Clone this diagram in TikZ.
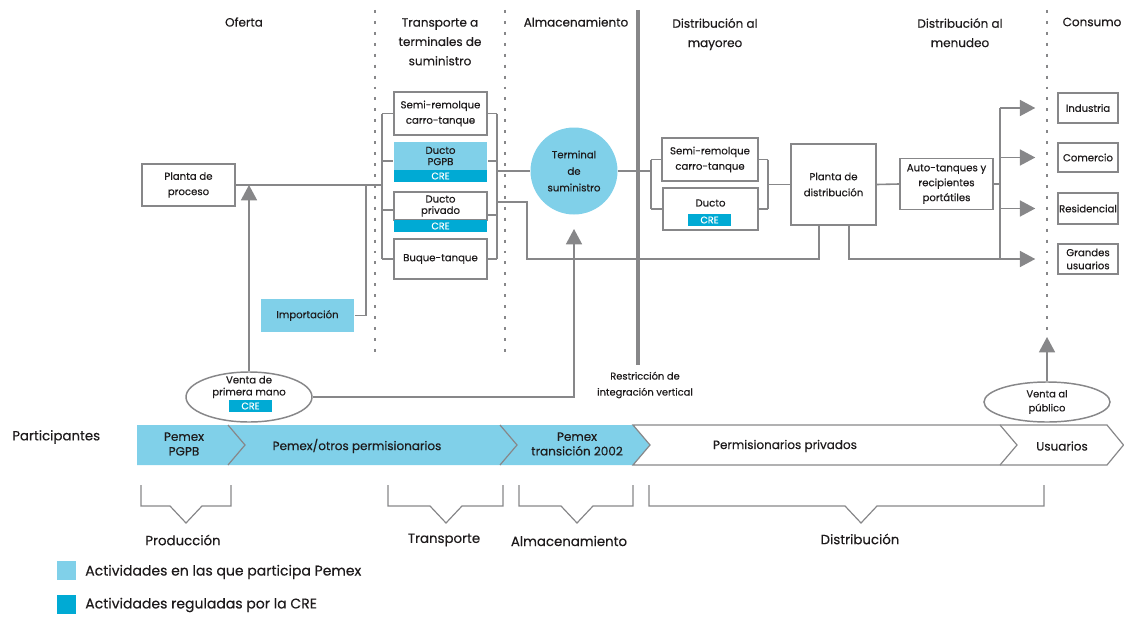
\documentclass[tikz,border=0pt]{standalone}
\usepackage{fontspec}
\setmainfont{Poppins}[FakeBold=0.4]
\usetikzlibrary{arrows.meta,shapes.geometric}
\definecolor{lblue}{RGB}{128,208,233}
\definecolor{dblue}{RGB}{0,170,212}
\definecolor{lgray}{RGB}{135,135,137}
\definecolor{txt}{RGB}{30,27,28}
\begin{document}
\begin{tikzpicture}[x=0.75pt,y=-0.75pt,
  box/.style={draw=lgray, line width=1.1pt, fill=white, inner sep=0pt, align=center, text=txt, font=\fontsize{7.6}{11.5}\selectfont},
  bluebox/.style={box, draw=none, fill=lblue},
  crestrip/.style={fill=dblue, inner sep=0pt, text=white, font=\fontsize{7.2}{8}\selectfont, minimum height=12*0.75pt},
  plain/.style={inner sep=0pt, align=center, text=txt, font=\fontsize{7.6}{11.5}\selectfont},
  conn/.style={draw=lgray, line width=1.2pt},
  arr/.style={conn, -{Triangle[length=11.5pt,width=12pt]}},
  dotline/.style={draw=lgray, line width=2.2pt, dash pattern=on 2.2pt off 6pt},
  hdr/.style={align=center, text=txt, inner sep=0pt, font=\fontsize{9}{14.5}\selectfont},
  brace/.style={draw=lgray, line width=0.9pt},
  bandtxt/.style={align=center, text=txt, inner sep=0pt, font=\fontsize{9}{11}\selectfont},
  lbl/.style={text=txt, inner sep=0pt, font=\fontsize{10}{12}\selectfont},
  oval/.style={ellipse, draw=lgray, line width=1.1pt, fill=white, inner sep=0pt}
]
\useasboundingbox (0,0) rectangle (1124,617);

% headers
\node[hdr] (h1) at (244,22) {Oferta};
\node[hdr, anchor=north] (h2) at (440,18) {Transporte a\\terminales de\\suministro};
\node[hdr] (h3) at (576,22) {Almacenamiento};
\node[hdr, anchor=north] (h4) at (715,18) {Distribución al\\mayoreo};
\node[hdr, anchor=north] (h5) at (960,18) {Distribución al\\menudeo};
\node[hdr] (h6) at (1092,22) {Consumo};

% separators
\draw[dotline] (375,10) -- (375,352);
\draw[dotline] (505,10) -- (505,352);
\draw[dotline] (1047,10) -- (1047,335);
\draw[draw=lgray, line width=3pt] (638,10) -- (638,365);

% boxes: oferta / transporte
\node[box, minimum width=93*0.75pt, minimum height=42*0.75pt] (pp) at (188.5,185) {Planta de\\proceso};
\node[box, minimum width=93*0.75pt, minimum height=43*0.75pt] (semiL) at (440.5,113.5) {Semi-remolque\\carro-tanque};
\node[bluebox, minimum width=93*0.75pt, minimum height=28*0.75pt, font=\fontsize{7.6}{8.5}\selectfont] (dpgpb) at (440.5,156) {Ducto\\PGPB};
\node[crestrip, minimum width=93*0.75pt] (dpgpbc) at (440.5,176) {CRE};
\node[box, minimum width=93*0.75pt, minimum height=28*0.75pt, font=\fontsize{7.6}{8.5}\selectfont] (dpriv) at (440.5,206) {Ducto\\privado};
\node[crestrip, minimum width=93*0.75pt] (dprivc) at (440.5,226) {CRE};
\node[box, minimum width=93*0.75pt, minimum height=40*0.75pt] (buque) at (440.5,259) {Buque-tanque};
\node[bluebox, minimum width=93*0.75pt, minimum height=33*0.75pt] (imp) at (307.5,315.5) {Importación};

% terminal
\node[circle, fill=lblue, minimum size=87*0.75pt, inner sep=0pt, align=center, text=txt, font=\fontsize{7.6}{12.4}\selectfont] (term) at (574,171) {Terminal\\de\\suministro};

% distribucion mayoreo
\node[box, minimum width=96*0.75pt, minimum height=43*0.75pt] (semiR) at (710,159.5) {Semi-remolque\\carro-tanque};
\node[box, minimum width=95*0.75pt, minimum height=42*0.75pt] (ductoR) at (710.5,209) {};
\node[plain] (ductoRt) at (710.5,203) {Ducto};
\node[crestrip, minimum width=43*0.75pt] (ductoRc) at (709.5,220) {CRE};
\node[box, minimum width=85*0.75pt, minimum height=81*0.75pt, font=\fontsize{7.6}{12}\selectfont] (pdist) at (833.5,184.5) {Planta de\\distribución};
\node[box, minimum width=93*0.75pt, minimum height=51*0.75pt, font=\fontsize{7.6}{11.2}\selectfont] (auto) at (946.5,184) {Auto-tanques y\\recipientes\\portátiles};

% consumo
\node[box, minimum width=60*0.75pt, minimum height=30*0.75pt] (ind) at (1088,108) {Industria};
\node[box, minimum width=60*0.75pt, minimum height=29*0.75pt] (com) at (1088,157.5) {Comercio};
\node[box, minimum width=60*0.75pt, minimum height=31*0.75pt] (res) at (1088,208.5) {Residencial};
\node[box, minimum width=60*0.75pt, minimum height=30*0.75pt, font=\fontsize{7.6}{9.8}\selectfont] (gra) at (1088,259) {Grandes\\usuarios};

% ovals
\node[oval, minimum width=126*0.75pt, minimum height=50*0.75pt] (vpm) at (249,397) {};
\node[plain, font=\fontsize{7.6}{9}\selectfont] (vpmt) at (249,387) {Venta de\\primera mano};
\node[crestrip, minimum width=43*0.75pt] (vpmc) at (250.5,406) {CRE};
\node[oval, minimum width=126*0.75pt, minimum height=40*0.75pt, align=center, text=txt, font=\fontsize{7.4}{10.5}\selectfont] (vap) at (1047,402) {Venta al\\público};

\node[plain, font=\fontsize{7.4}{12}\selectfont] (restr) at (645,385) {Restricción de\\integración vertical};

% coordinates
\coordinate (tlm) at (382,185);
\coordinate (tl1) at (382,113.5);
\coordinate (tl2) at (382,161);
\coordinate (tl3) at (382,210);
\coordinate (tl4) at (382,259);
\coordinate (tr1) at (497,113.5);
\coordinate (tr2) at (497,161);
\coordinate (tr3) at (497,215);
\coordinate (tr4) at (497,259);
\coordinate (trm) at (497,171);
\coordinate (trp) at (497,202);
\coordinate (impj) at (366,185);
\coordinate (ppj) at (249,185);
\coordinate (termin) at (574,229);
\coordinate (dl) at (651,171);
\coordinate (dr) at (768,184.5);
\coordinate (rb) at (1000,184);
\coordinate (rb1) at (1000,108);
\coordinate (rb4) at (1000,259);
\coordinate (vapin) at (1047,337);

% connectors transporte
\draw[conn] (pp.east) -- (tlm);
\draw[conn] (tl1) -- (tl4);
\draw[conn] (tl1) -- (tl1 -| semiL.west);
\draw[conn] (tl2) -- (tl2 -| dpgpb.west);
\draw[conn] (tl3) -- (tl3 -| dpriv.west);
\draw[conn] (tl4) -- (tl4 -| buque.west);
\draw[conn] (tr1) -- (tr4);
\draw[conn] (tr1) -- (tr1 -| semiL.east);
\draw[conn] (tr2) -- (tr2 -| dpgpb.east);
\draw[conn] (tr3) -- (tr3 -| dpriv.east);
\draw[conn] (tr4) -- (tr4 -| buque.east);
\draw[conn] (imp.east) -| (impj);
\draw[arr] (vpm.north) -- (ppj);
\draw[conn] (trm) -- (term.west);
\draw[arr] (vpm.east) -| (termin);
\draw[conn] (trp) -- (527,202) -- (527,259) -- (819,259) -- (819,225);

% connectors distribucion
\draw[conn] (term.east) -- (dl);
\draw[conn] (dl |- semiR.west) -- (dl |- ductoR.west);
\draw[conn] (dl |- semiR.west) -- (semiR.west);
\draw[conn] (dl |- ductoR.west) -- (ductoR.west);
\draw[conn] (dr |- semiR.east) -- (dr |- ductoR.east);
\draw[conn] (dr |- semiR.east) -- (semiR.east);
\draw[conn] (dr |- ductoR.east) -- (ductoR.east);
\draw[conn] (dr) -- (pdist.west);
\draw[conn] (pdist.east) -- (auto.west);
\draw[conn] (auto.east) -- (rb);
\draw[conn] (rb1) -- (rb4);
\draw[conn] (849,225) -- (849,259) -- (rb4);
\draw[arr, shorten >=22*0.75pt] (rb1) -- (ind.west);
\draw[arr, shorten >=22*0.75pt] (rb1 |- com.west) -- (com.west);
\draw[arr, shorten >=22*0.75pt] (rb1 |- res.west) -- (res.west);
\draw[arr, shorten >=22*0.75pt] (rb4) -- (gra.west);
\draw[arr] (vap.north) -- (vapin);

% participants band
\node[lbl, anchor=west] (part) at (12,437) {Participantes};
\fill[lblue] (137,425) -- (633,425) -- (650,445) -- (633,465) -- (137,465) -- cycle;
\draw[brace] (228,425) -- (245,445) -- (228,465);
\draw[brace] (500,425) -- (517,445) -- (500,465);
\draw[brace] (633,425) -- (1000,425) -- (1017,445) -- (1000,465) -- (633,465) -- (650,445) -- cycle;
\draw[brace] (1000,425) -- (1107,425) -- (1123.5,445) -- (1107,465) -- (1000,465);
\node[bandtxt] (b1) at (184,444) {Pemex\\PGPB};
\node[bandtxt] (b2) at (357,446) {Pemex/otros permisionarios};
\node[bandtxt] (b3) at (577,444) {Pemex\\transición 2002};
\node[bandtxt] (b4) at (785,446) {Permisionarios privados};
\node[bandtxt] (b5) at (1062,446) {Usuarios};

% braces
\draw[brace] (141,485) -- (141,506) -- (170,506) -- (186,523) -- (202,506) -- (231,506) -- (231,485);
\draw[brace] (388,485) -- (388,506) -- (430,506) -- (446,523) -- (462,506) -- (503,506) -- (503,485);
\draw[brace] (519,485) -- (519,506) -- (561,506) -- (577,523) -- (593,506) -- (633,506) -- (633,485);
\draw[brace] (649,485) -- (649,506) -- (845,506) -- (861,523) -- (877,506) -- (1044,506) -- (1044,485);
\node[lbl] (l1) at (183,540) {Producción};
\node[lbl] (l2) at (444,540) {Transporte};
\node[lbl] (l3) at (569,541) {Almacenamiento};
\node[lbl] (l4) at (860,539) {Distribución};

% legend
\node[fill=lblue, minimum width=19*0.75pt, minimum height=19*0.75pt, inner sep=0pt] (leg1) at (66.5,570.5) {};
\node[lbl, anchor=west, font=\fontsize{10.5}{12}\selectfont] (leg1t) at (85,572) {Actividades en las que participa Pemex};
\node[fill=dblue, minimum width=19*0.75pt, minimum height=19*0.75pt, inner sep=0pt] (leg2) at (66.5,604) {};
\node[lbl, anchor=west, font=\fontsize{10.5}{12}\selectfont] (leg2t) at (85,605) {Actividades reguladas por la CRE};
\end{tikzpicture}
\end{document}
